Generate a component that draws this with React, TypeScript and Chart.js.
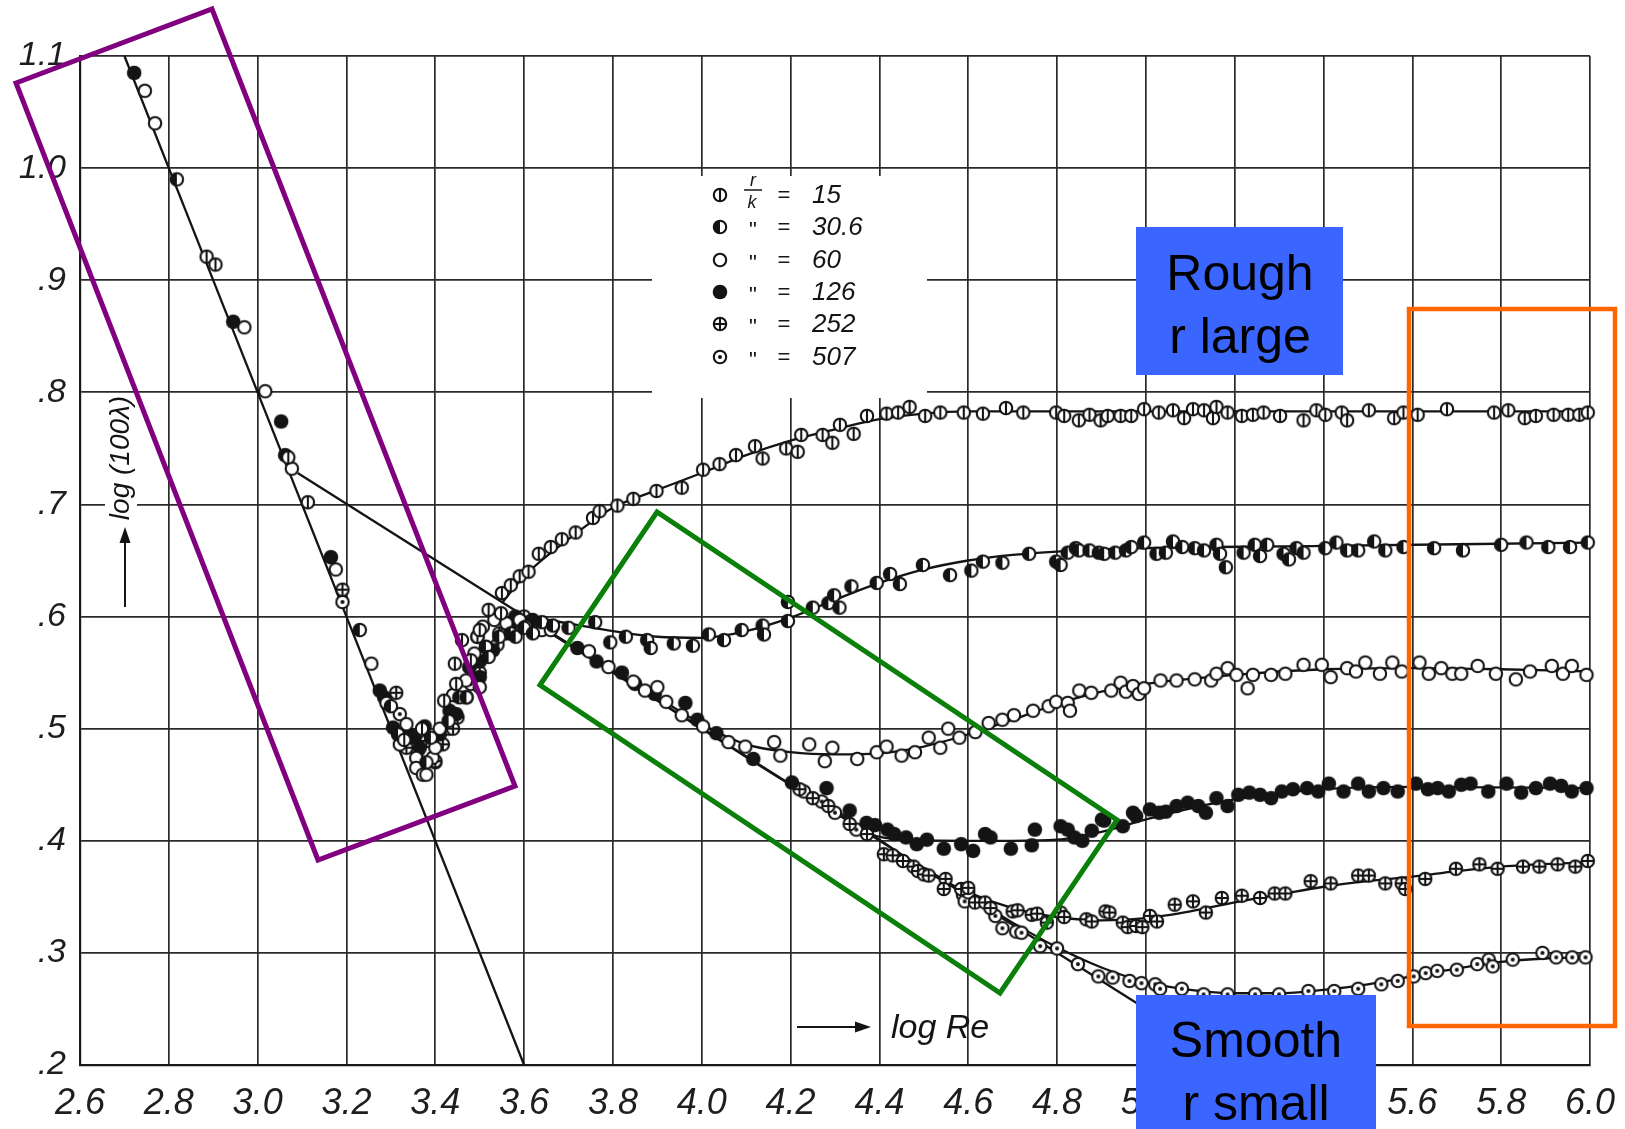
import React, { useEffect, useRef } from 'react';
import { Chart, registerables } from 'chart.js';

Chart.register(...registerables);

const W = 1625;
const H = 1129;

// ---- axis ticks ----
const xTickValues = [2.6, 2.8, 3.0, 3.2, 3.4, 3.6, 3.8, 4.0, 4.2, 4.4, 4.6, 4.8, 5.0, 5.2, 5.4, 5.6, 5.8, 6.0];
const xTickLabels = ['2.6', '2.8', '3.0', '3.2', '3.4', '3.6', '3.8', '4.0', '4.2', '4.4', '4.6', '4.8', '5.0', '5.2', '5.4', '5.6', '5.8', '6.0'];
const yTickValues = [0.2, 0.3, 0.4, 0.5, 0.6, 0.7, 0.8, 0.9, 1.0, 1.1];
const yTickLabels = ['.2', '.3', '.4', '.5', '.6', '.7', '.8', '.9', '1.0', '1.1'];

// ---- legend (r/k values) ----
const legendValues = ['15', '30.6', '60', '126', '252', '507'];

// ---- measured points: [log Re, log(100 lambda)] ----
const s15: number[][] = [
  [2.885, 0.921], [2.905, 0.914], [3.069, 0.742], [3.113, 0.702],
  [3.33, 0.49], [3.37, 0.5], [3.42, 0.525], [3.444, 0.558], [3.447, 0.54], [3.46, 0.579], [3.48, 0.561],
  [3.495, 0.582], [3.5, 0.588], [3.52, 0.606], [3.548, 0.603], [3.55, 0.621], [3.57, 0.628], [3.59, 0.636],
  [3.61, 0.64], [3.633, 0.656], [3.66, 0.662], [3.685, 0.669], [3.716, 0.675], [3.755, 0.688], [3.77, 0.694],
  [3.81, 0.699], [3.846, 0.705], [3.898, 0.712], [3.955, 0.715], [4.003, 0.731], [4.04, 0.736], [4.077, 0.744],
  [4.12, 0.752], [4.137, 0.741], [4.19, 0.75], [4.216, 0.747], [4.224, 0.762], [4.272, 0.762], [4.294, 0.755],
  [4.311, 0.771], [4.342, 0.763], [4.372, 0.779], [4.416, 0.781], [4.442, 0.782], [4.468, 0.787], [4.503, 0.779],
  [4.537, 0.782], [4.59, 0.782], [4.633, 0.781], [4.685, 0.786], [4.724, 0.782], [4.798, 0.782], [4.816, 0.779],
  [4.849, 0.775], [4.873, 0.78], [4.898, 0.775], [4.914, 0.779], [4.943, 0.779], [4.967, 0.779], [4.996, 0.785],
  [5.029, 0.782], [5.061, 0.784], [5.086, 0.777], [5.106, 0.785], [5.131, 0.784], [5.151, 0.777], [5.159, 0.787],
  [5.184, 0.782], [5.216, 0.779], [5.241, 0.78], [5.265, 0.782], [5.302, 0.779], [5.355, 0.775], [5.384, 0.784],
  [5.404, 0.78], [5.441, 0.782], [5.453, 0.775], [5.502, 0.784], [5.559, 0.777], [5.58, 0.782], [5.612, 0.78],
  [5.678, 0.785], [5.784, 0.782], [5.816, 0.784], [5.853, 0.777], [5.878, 0.779], [5.918, 0.78], [5.951, 0.78],
  [5.976, 0.78], [5.995, 0.782],
];

const s30: number[][] = [
  [2.818, 0.99], [3.23, 0.588],
  [3.3, 0.52], [3.316, 0.495], [3.38, 0.47], [3.39, 0.492], [3.43, 0.507], [3.454, 0.528], [3.47, 0.528],
  [3.514, 0.573], [3.52, 0.564], [3.544, 0.582], [3.57, 0.585], [3.581, 0.582],
  [3.6, 0.59], [3.62, 0.585], [3.64, 0.595], [3.665, 0.592], [3.7, 0.59], [3.76, 0.595], [3.794, 0.577],
  [3.829, 0.582], [3.877, 0.579], [3.885, 0.572], [3.937, 0.576], [3.98, 0.574], [4.016, 0.584], [4.05, 0.579],
  [4.09, 0.588], [4.137, 0.592], [4.14, 0.584], [4.194, 0.596], [4.194, 0.613], [4.25, 0.608], [4.285, 0.612],
  [4.298, 0.619], [4.31, 0.608], [4.337, 0.627], [4.394, 0.63], [4.424, 0.638], [4.446, 0.629], [4.498, 0.646],
  [4.559, 0.637], [4.607, 0.641], [4.633, 0.649], [4.677, 0.648], [4.737, 0.656], [4.798, 0.649], [4.808, 0.646],
  [4.824, 0.657], [4.842, 0.661], [4.849, 0.659], [4.873, 0.659], [4.894, 0.657], [4.906, 0.656], [4.931, 0.657],
  [4.955, 0.659], [4.967, 0.662], [4.996, 0.666], [5.024, 0.656], [5.045, 0.657], [5.061, 0.667], [5.082, 0.662],
  [5.11, 0.661], [5.131, 0.659], [5.159, 0.664], [5.167, 0.656], [5.18, 0.644], [5.22, 0.657], [5.245, 0.664],
  [5.257, 0.654], [5.273, 0.664], [5.31, 0.656], [5.322, 0.651], [5.339, 0.661], [5.355, 0.657], [5.404, 0.661],
  [5.429, 0.666], [5.453, 0.659], [5.478, 0.659], [5.514, 0.667], [5.539, 0.659], [5.58, 0.662], [5.649, 0.661],
  [5.714, 0.659], [5.8, 0.664], [5.857, 0.666], [5.906, 0.662], [5.955, 0.662], [5.995, 0.666],
];

const s60: number[][] = [
  [2.746, 1.069], [2.769, 1.04], [2.97, 0.858], [3.017, 0.801], [3.077, 0.732], [3.176, 0.642], [3.256, 0.558],
  [3.29, 0.523], [3.32, 0.486], [3.335, 0.504], [3.357, 0.474], [3.357, 0.465], [3.372, 0.459], [3.38, 0.459],
  [3.394, 0.474], [3.4, 0.483], [3.41, 0.5], [3.44, 0.53], [3.469, 0.543], [3.488, 0.567], [3.5, 0.537],
  [3.507, 0.591], [3.533, 0.597], [3.56, 0.594], [3.59, 0.597], [3.604, 0.591], [3.64, 0.588],
  [3.66, 0.588], [3.746, 0.569], [3.79, 0.555], [3.846, 0.542], [3.872, 0.534],
  [3.9, 0.537], [3.92, 0.524], [3.955, 0.512], [4.003, 0.502], [4.06, 0.488], [4.098, 0.484], [4.163, 0.488],
  [4.177, 0.476], [4.242, 0.486], [4.277, 0.471], [4.294, 0.483], [4.35, 0.473], [4.394, 0.479], [4.416, 0.484],
  [4.45, 0.476], [4.48, 0.479], [4.511, 0.492], [4.537, 0.483], [4.555, 0.5], [4.58, 0.492], [4.616, 0.497],
  [4.646, 0.505], [4.677, 0.508], [4.703, 0.512], [4.746, 0.516], [4.781, 0.52], [4.798, 0.524], [4.824, 0.523],
  [4.829, 0.516], [4.85, 0.534], [4.877, 0.532], [4.922, 0.534], [4.943, 0.541], [4.955, 0.533], [4.971, 0.538],
  [4.984, 0.531], [4.996, 0.536], [5.033, 0.543], [5.069, 0.543], [5.11, 0.544], [5.147, 0.543], [5.159, 0.549],
  [5.184, 0.554], [5.204, 0.548], [5.229, 0.536], [5.241, 0.548], [5.282, 0.548], [5.314, 0.549], [5.355, 0.557],
  [5.396, 0.557], [5.416, 0.546], [5.453, 0.554], [5.473, 0.551], [5.494, 0.559], [5.527, 0.549], [5.555, 0.559],
  [5.576, 0.551], [5.616, 0.559], [5.637, 0.549], [5.665, 0.554], [5.69, 0.549], [5.71, 0.549], [5.747, 0.556],
  [5.788, 0.549], [5.833, 0.544], [5.865, 0.551], [5.914, 0.556], [5.939, 0.549], [5.959, 0.556], [5.992, 0.548],
];

const s126: number[][] = [
  [2.722, 1.085], [2.945, 0.863], [3.053, 0.774], [3.062, 0.744], [3.165, 0.653],
  [3.275, 0.534], [3.285, 0.528], [3.305, 0.501], [3.342, 0.495], [3.353, 0.492], [3.365, 0.483], [3.376, 0.502],
  [3.41, 0.495], [3.432, 0.516], [3.447, 0.513], [3.47, 0.528], [3.477, 0.555], [3.5, 0.56], [3.5, 0.546],
  [3.53, 0.57], [3.567, 0.591], [3.58, 0.6], [3.619, 0.597], [3.664, 0.591],
  [3.72, 0.572], [3.763, 0.56], [3.82, 0.55], [3.85, 0.54], [3.894, 0.531],
  [3.963, 0.523], [3.99, 0.508], [4.033, 0.496], [4.116, 0.473], [4.203, 0.452], [4.281, 0.447], [4.333, 0.427],
  [4.371, 0.416], [4.39, 0.414], [4.418, 0.41], [4.433, 0.406], [4.46, 0.403], [4.484, 0.397], [4.507, 0.401],
  [4.545, 0.393], [4.584, 0.397], [4.611, 0.391], [4.638, 0.406], [4.65, 0.403], [4.696, 0.393], [4.743, 0.396],
  [4.75, 0.41], [4.808, 0.413], [4.824, 0.41], [4.839, 0.403], [4.857, 0.4], [4.878, 0.409], [4.901, 0.419],
  [4.906, 0.418], [4.948, 0.413], [4.971, 0.425], [4.978, 0.422], [5.009, 0.428], [5.03, 0.425], [5.045, 0.426],
  [5.069, 0.431], [5.094, 0.434], [5.118, 0.431], [5.135, 0.425], [5.159, 0.438], [5.184, 0.431], [5.208, 0.441],
  [5.233, 0.443], [5.257, 0.441], [5.282, 0.438], [5.306, 0.444], [5.331, 0.446], [5.363, 0.447], [5.388, 0.444],
  [5.412, 0.451], [5.445, 0.444], [5.478, 0.451], [5.502, 0.444], [5.535, 0.447], [5.567, 0.444], [5.608, 0.451],
  [5.635, 0.446], [5.657, 0.447], [5.682, 0.444], [5.71, 0.45], [5.731, 0.451], [5.771, 0.444], [5.812, 0.451],
  [5.845, 0.443], [5.878, 0.447], [5.91, 0.451], [5.935, 0.449], [5.959, 0.444], [5.992, 0.447],
];

const s252: number[][] = [
  [3.191, 0.624],
  [3.312, 0.532], [3.335, 0.483], [3.38, 0.489], [3.4, 0.471], [3.417, 0.486], [3.44, 0.5], [3.45, 0.51],
  [3.495, 0.582], [3.5, 0.55], [3.544, 0.585], [3.56, 0.585], [3.6, 0.6],
  [4.22, 0.446], [4.25, 0.438], [4.285, 0.431], [4.333, 0.415], [4.372, 0.406], [4.41, 0.388], [4.43, 0.387],
  [4.453, 0.382], [4.477, 0.377], [4.487, 0.373], [4.5, 0.37], [4.511, 0.369], [4.549, 0.366], [4.545, 0.357],
  [4.584, 0.357], [4.6, 0.358], [4.615, 0.345], [4.638, 0.345], [4.65, 0.34], [4.7, 0.337], [4.711, 0.338],
  [4.743, 0.334], [4.755, 0.335], [4.777, 0.327], [4.808, 0.336], [4.816, 0.332], [4.866, 0.33], [4.878, 0.328],
  [4.909, 0.337], [4.918, 0.336], [4.948, 0.327], [4.959, 0.323], [4.978, 0.324], [4.992, 0.323], [5.009, 0.333],
  [5.025, 0.328], [5.065, 0.343], [5.106, 0.346], [5.135, 0.336], [5.171, 0.349], [5.216, 0.351], [5.257, 0.349],
  [5.29, 0.353], [5.314, 0.353], [5.371, 0.364], [5.416, 0.362], [5.478, 0.369], [5.502, 0.369], [5.539, 0.362],
  [5.576, 0.362], [5.584, 0.357], [5.629, 0.366], [5.698, 0.375], [5.751, 0.379], [5.792, 0.375], [5.849, 0.377],
  [5.886, 0.377], [5.927, 0.379], [5.967, 0.377], [5.995, 0.382],
];

const s507: number[][] = [
  [3.191, 0.613],
  [3.32, 0.495], [3.32, 0.513], [3.36, 0.48], [3.4, 0.47], [3.43, 0.5], [3.477, 0.555], [3.48, 0.54],
  [3.514, 0.573], [3.54, 0.575], [3.58, 0.59], [3.62, 0.595],
  [4.23, 0.444], [4.27, 0.435], [4.3, 0.425], [4.348, 0.41], [4.588, 0.352], [4.592, 0.346], [4.6, 0.354],
  [4.661, 0.333], [4.677, 0.322], [4.708, 0.319], [4.72, 0.318], [4.762, 0.306], [4.8, 0.304], [4.847, 0.29],
  [4.893, 0.279], [4.925, 0.278], [4.963, 0.275], [4.99, 0.273], [5.021, 0.272], [5.032, 0.268], [5.081, 0.268],
  [5.13, 0.263], [5.184, 0.263], [5.246, 0.263], [5.3, 0.263], [5.366, 0.266], [5.424, 0.266], [5.478, 0.268],
  [5.53, 0.272], [5.567, 0.275], [5.603, 0.279], [5.63, 0.282], [5.656, 0.284], [5.7, 0.285], [5.746, 0.29],
  [5.772, 0.294], [5.781, 0.288], [5.826, 0.294], [5.893, 0.3], [5.924, 0.296], [5.96, 0.296], [5.99, 0.296],
];

// ---- drawn curves ----
const laminarLine: number[][] = [[2.7, 1.1], [3.6, 0.2]];
const blasiusLine: number[][] = [[3.09, 0.728], [5.02, 0.245]];
const fit15: number[][] = [
  [3.55, 0.612], [3.6, 0.636], [3.7, 0.669], [3.8, 0.697], [3.9, 0.713], [4.0, 0.728], [4.1, 0.744], [4.2, 0.757],
  [4.3, 0.767], [4.4, 0.776], [4.5, 0.781], [4.6, 0.783], [4.8, 0.783], [5.2, 0.783], [5.6, 0.783], [6.0, 0.783],
];
const fit30: number[][] = [
  [3.6, 0.6], [3.7, 0.594], [3.8, 0.587], [3.9, 0.582], [4.0, 0.581], [4.1, 0.587], [4.2, 0.599], [4.3, 0.615],
  [4.4, 0.63], [4.5, 0.642], [4.6, 0.65], [4.7, 0.655], [4.8, 0.658], [5.0, 0.661], [5.4, 0.663], [6.0, 0.666],
];
const fit60: number[][] = [
  [3.6, 0.6], [3.7, 0.576], [3.8, 0.552], [3.9, 0.528], [4.0, 0.504], [4.1, 0.486], [4.2, 0.479], [4.3, 0.477],
  [4.4, 0.478], [4.5, 0.484], [4.6, 0.495], [4.7, 0.508], [4.8, 0.522], [4.9, 0.533], [5.0, 0.54], [5.2, 0.548],
  [5.4, 0.553], [5.6, 0.554], [5.8, 0.553], [6.0, 0.551],
];
const fit126: number[][] = [
  [3.6, 0.6], [3.8, 0.55], [4.0, 0.5], [4.2, 0.45], [4.3, 0.428], [4.38, 0.406], [4.45, 0.401], [4.6, 0.4],
  [4.7, 0.4], [4.8, 0.401], [4.9, 0.408], [5.0, 0.419], [5.1, 0.429], [5.2, 0.437], [5.3, 0.442], [5.4, 0.446],
  [5.6, 0.448], [6.0, 0.447],
];
const fit252: number[][] = [
  [4.3, 0.425], [4.4, 0.401], [4.5, 0.374], [4.6, 0.354], [4.7, 0.34], [4.8, 0.332], [4.9, 0.329], [5.0, 0.331],
  [5.1, 0.337], [5.2, 0.345], [5.3, 0.352], [5.4, 0.359], [5.5, 0.364], [5.6, 0.368], [5.7, 0.373], [5.8, 0.377],
  [6.0, 0.381],
];
const fit507: number[][] = [
  [4.5, 0.376], [4.6, 0.352], [4.7, 0.327], [4.8, 0.305], [4.9, 0.287], [5.0, 0.274], [5.1, 0.267], [5.2, 0.264],
  [5.3, 0.264], [5.4, 0.267], [5.5, 0.272], [5.6, 0.279], [5.7, 0.286], [5.8, 0.292], [5.9, 0.295], [6.0, 0.296],
];

const INK = '#141414';

function makeMarker(kind: string): HTMLCanvasElement {
  const c = document.createElement('canvas');
  c.width = 18;
  c.height = 18;
  const g = c.getContext('2d') as CanvasRenderingContext2D;
  g.lineWidth = 2.1;
  g.strokeStyle = INK;
  g.fillStyle = '#fff';
  const r = kind === 'filled' ? 7.3 : 6.2;
  g.beginPath();
  g.arc(9, 9, r, 0, Math.PI * 2);
  if (kind === 'filled') {
    g.fillStyle = INK;
    g.fill();
    return c;
  }
  g.fill();
  g.stroke();
  g.fillStyle = INK;
  if (kind === 'vline' || kind === 'plus') {
    g.beginPath();
    g.moveTo(9, 2.8);
    g.lineTo(9, 15.2);
    g.stroke();
  }
  if (kind === 'plus') {
    g.beginPath();
    g.moveTo(2.8, 9);
    g.lineTo(15.2, 9);
    g.stroke();
  }
  if (kind === 'half') {
    g.beginPath();
    g.moveTo(9, 9);
    g.arc(9, 9, r, Math.PI / 2, (Math.PI * 3) / 2);
    g.closePath();
    g.fill();
  }
  if (kind === 'dot') {
    g.beginPath();
    g.arc(9, 9, 2, 0, Math.PI * 2);
    g.fill();
  }
  return c;
}

export default function App() {
  const ref = useRef<HTMLCanvasElement>(null);

  useEffect(() => {
    const canvas = ref.current as HTMLCanvasElement;
    const kinds = ['vline', 'half', 'open', 'filled', 'plus', 'dot'];
    const markers = kinds.map((k) => makeMarker(k));
    const toXY = (a: number[][]) => a.map(([x, y]) => ({ x, y }));

    const pointSeries = [s15, s30, s60, s126, s252, s507];
    const lineSeries = [laminarLine, blasiusLine, fit15, fit30, fit60, fit126, fit252, fit507];

    const datasets: any[] = [];
    lineSeries.forEach((l) => {
      datasets.push({
        data: toXY(l),
        showLine: true,
        borderColor: INK,
        borderWidth: 2.3,
        pointRadius: 0,
        tension: 0.4,
        cubicInterpolationMode: 'monotone',
        fill: false,
        order: 2,
        clip: 4,
      });
    });
    pointSeries.forEach((p, i) => {
      datasets.push({
        data: toXY(p),
        showLine: false,
        pointStyle: markers[i],
        pointRadius: 7,
        order: 1,
        clip: 12,
      });
    });

    const overlay = {
      id: 'overlay',
      beforeDatasetsDraw(chart: any) {
        const ctx = chart.ctx as CanvasRenderingContext2D;
        ctx.save();
        // legend panel
        ctx.fillStyle = '#fff';
        ctx.fillRect(652, 176, 275, 222);
        const rowY = [195, 227, 260, 292, 324, 357];
        ctx.fillStyle = INK;
        ctx.strokeStyle = INK;
        legendValues.forEach((v, i) => {
          ctx.drawImage(markers[i], 720 - 9, rowY[i] - 9);
          ctx.font = 'italic 26px "Liberation Sans"';
          ctx.textAlign = 'left';
          ctx.textBaseline = 'middle';
          ctx.fillText(v, 812, rowY[i] + 1);
          ctx.font = '22px "Liberation Sans"';
          ctx.textAlign = 'center';
          ctx.fillText('=', 784, rowY[i] + 1);
          if (i > 0) ctx.fillText('"', 753, rowY[i] + 4);
        });
        // r / k fraction
        ctx.font = 'italic 18px "Liberation Sans"';
        ctx.textAlign = 'center';
        ctx.textBaseline = 'alphabetic';
        ctx.fillText('r', 753, 186);
        ctx.lineWidth = 1.5;
        ctx.beginPath();
        ctx.moveTo(744, 190);
        ctx.lineTo(762, 190);
        ctx.stroke();
        ctx.fillText('k', 752, 208);

        // y-axis title with arrow
        ctx.fillStyle = '#fff';
        ctx.fillRect(105, 394, 32, 130);
        ctx.save();
        ctx.translate(121, 458);
        ctx.rotate(-Math.PI / 2);
        ctx.fillStyle = INK;
        ctx.font = 'italic 28px "Liberation Sans"';
        ctx.textAlign = 'center';
        ctx.textBaseline = 'middle';
        ctx.fillText('log (100λ)', 0, 0);
        ctx.restore();
        ctx.fillStyle = '#fff';
        ctx.fillRect(118, 524, 14, 86);
        ctx.strokeStyle = INK;
        ctx.fillStyle = INK;
        ctx.lineWidth = 2;
        ctx.beginPath();
        ctx.moveTo(125, 607);
        ctx.lineTo(125, 540);
        ctx.stroke();
        ctx.beginPath();
        ctx.moveTo(119.5, 543);
        ctx.lineTo(125, 527);
        ctx.lineTo(130.5, 543);
        ctx.closePath();
        ctx.fill();
        ctx.restore();
      },
      afterDraw(chart: any) {
        const ctx = chart.ctx as CanvasRenderingContext2D;
        const xs = chart.scales.x;
        const ys = chart.scales.y;
        ctx.save();
        ctx.fillStyle = '#1e1e1e';
        // tick labels
        ctx.font = 'italic 36px "Liberation Sans"';
        ctx.textAlign = 'center';
        ctx.textBaseline = 'middle';
        xTickValues.forEach((v, i) => ctx.fillText(xTickLabels[i], xs.getPixelForValue(v), 1104));
        ctx.font = 'italic 34px "Liberation Sans"';
        ctx.textAlign = 'right';
        yTickValues.forEach((v, i) => ctx.fillText(yTickLabels[i], 66, ys.getPixelForValue(v)));

        // log Re arrow and label
        ctx.strokeStyle = INK;
        ctx.fillStyle = INK;
        ctx.lineWidth = 2;
        ctx.beginPath();
        ctx.moveTo(797, 1027);
        ctx.lineTo(858, 1027);
        ctx.stroke();
        ctx.beginPath();
        ctx.moveTo(855, 1021.5);
        ctx.lineTo(871, 1027);
        ctx.lineTo(855, 1032.5);
        ctx.closePath();
        ctx.fill();
        ctx.font = 'italic 34px "Liberation Sans"';
        ctx.textAlign = 'left';
        ctx.textBaseline = 'alphabetic';
        ctx.fillText('log Re', 891, 1038);

        // annotation frames
        ctx.lineWidth = 5;
        ctx.lineJoin = 'miter';
        ctx.strokeStyle = '#800080';
        ctx.beginPath();
        ctx.moveTo(16, 83);
        ctx.lineTo(212, 9);
        ctx.lineTo(515, 786);
        ctx.lineTo(318, 860);
        ctx.closePath();
        ctx.stroke();

        ctx.strokeStyle = '#0a800a';
        ctx.beginPath();
        ctx.moveTo(540, 685);
        ctx.lineTo(657, 512);
        ctx.lineTo(1117, 820);
        ctx.lineTo(1000, 993);
        ctx.closePath();
        ctx.stroke();

        ctx.strokeStyle = '#ff6600';
        ctx.lineWidth = 4.5;
        ctx.strokeRect(1409, 309, 206, 717);

        // blue label boxes
        ctx.fillStyle = '#3a66ff';
        ctx.fillRect(1136, 227, 207, 148);
        ctx.fillRect(1136, 995, 240, 140);
        ctx.fillStyle = '#000';
        ctx.font = '50px "Liberation Sans"';
        ctx.textAlign = 'center';
        ctx.textBaseline = 'alphabetic';
        ctx.fillText('Rough', 1240, 290);
        ctx.fillText('r large', 1240, 353);
        ctx.fillText('Smooth', 1256, 1057);
        ctx.fillText('r small', 1256, 1120);
        ctx.restore();
      },
    };

    const chart = new Chart(canvas, {
      type: 'scatter',
      data: { datasets },
      options: {
        responsive: false,
        animation: false,
        devicePixelRatio: 1,
        events: [],
        layout: { padding: { top: 56, right: 35, left: 0, bottom: 0 } },
        plugins: { legend: { display: false }, tooltip: { enabled: false } },
        scales: {
          x: {
            type: 'linear',
            min: 2.6,
            max: 6.0,
            afterBuildTicks: (s: any) => {
              s.ticks = xTickValues.map((v) => ({ value: v }));
            },
            afterFit: (s: any) => {
              s.height = 64;
            },
            ticks: { display: false },
            grid: { color: '#2a2a2a', lineWidth: 1.7, drawTicks: false },
            border: { color: '#1a1a1a', width: 2.2 },
          },
          y: {
            type: 'linear',
            min: 0.2,
            max: 1.1,
            afterBuildTicks: (s: any) => {
              s.ticks = yTickValues.map((v) => ({ value: v }));
            },
            afterFit: (s: any) => {
              s.width = 80;
            },
            ticks: { display: false },
            grid: { color: '#2a2a2a', lineWidth: 1.7, drawTicks: false },
            border: { color: '#1a1a1a', width: 2.2 },
          },
        },
      } as any,
      plugins: [overlay],
    });
    return () => chart.destroy();
  }, []);

  return (
    <div style={{ position: 'absolute', left: 0, top: 0, width: W, height: H, background: '#fff' }}>
      <canvas ref={ref} width={W} height={H} style={{ display: 'block', width: W, height: H }} />
    </div>
  );
}
